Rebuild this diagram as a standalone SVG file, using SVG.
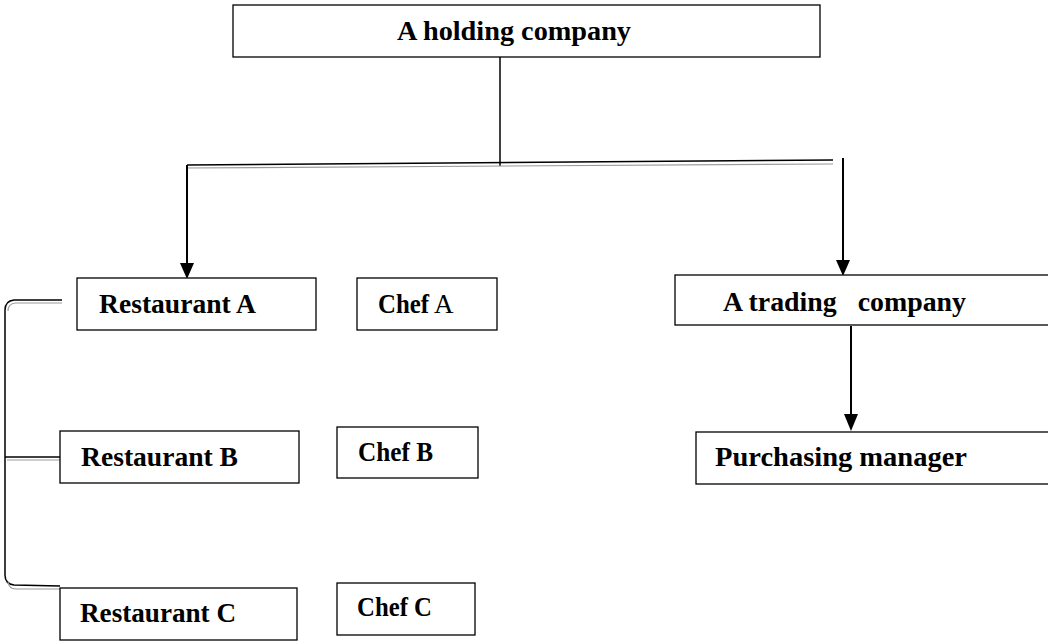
<svg xmlns="http://www.w3.org/2000/svg" width="1048" height="641" viewBox="0 0 1048 641">
  <style>
    .box { fill: #ffffff; stroke: #000000; stroke-width: 1.3; }
    .lbl { font-family: "Liberation Serif", "DejaVu Serif", serif; font-weight: bold; font-size: 27px; fill: #000000; }
    .reg { font-weight: normal; }
    .wire { fill: none; stroke: #000000; stroke-width: 1.5; }
    .shade { fill: none; stroke: #9a9a9a; stroke-width: 1.2; }
    .arrow { fill: none; stroke: #000000; stroke-width: 2; }
    .head { fill: #000000; }
  </style>

  <rect width="1048" height="641" fill="#ffffff"/>

  <!-- connectors -->
  <g id="connectors">
    <!-- trunk from the holding company -->
    <line class="wire" x1="500" y1="57" x2="500" y2="166"/>
    <!-- double crossbar -->
    <line class="wire" x1="187" y1="165" x2="833" y2="160"/>
    <line class="shade" x1="187" y1="168" x2="833" y2="164"/>
    <!-- down to restaurant A -->
    <line class="arrow" x1="187" y1="165" x2="187" y2="266"/>
    <path class="head" d="M180,263 L194,263 L187,279 Z"/>
    <!-- down to trading company -->
    <line class="arrow" x1="843" y1="158" x2="843" y2="262"/>
    <path class="head" d="M836,260 L850,260 L843,276 Z"/>
    <!-- trading company to purchasing manager -->
    <line class="arrow" x1="851" y1="326" x2="851" y2="417"/>
    <path class="head" d="M844,414 L858,414 L851,431 Z"/>
    <!-- bracket linking the restaurants -->
    <path class="wire" d="M62,300 L14,300 Q5,301 5,310 L5,575 Q5,584 14,585 L60,586"/>
    <path class="shade" d="M62,303 L15,303 Q8,304 8,311"/>
    <path class="shade" d="M8,582 Q9,589 16,589 L60,589"/>
    <line class="wire" x1="5" y1="457" x2="60" y2="457"/>
    <line class="shade" x1="7" y1="460" x2="60" y2="460"/>
  </g>

  <g id="holding">
    <rect class="box" x="233" y="5" width="587" height="52"/>
    <text class="lbl" x="397" y="40" textLength="234" lengthAdjust="spacingAndGlyphs">A holding company</text>
  </g>

  <g id="restaurant-a">
    <rect class="box" x="77" y="278" width="239" height="52"/>
    <text class="lbl" x="99" y="313" textLength="157" lengthAdjust="spacingAndGlyphs">Restaurant A</text>
  </g>

  <g id="chef-a">
    <rect class="box" x="357" y="278" width="140" height="52"/>
    <text class="lbl" y="313"><tspan x="378" textLength="51" lengthAdjust="spacingAndGlyphs">Chef</tspan><tspan class="reg" x="434">A</tspan></text>
  </g>

  <g id="trading">
    <rect class="box" x="675" y="275" width="380" height="50"/>
    <text class="lbl" x="723" y="311" xml:space="preserve" textLength="243" lengthAdjust="spacingAndGlyphs">A trading   company</text>
  </g>

  <g id="purchasing">
    <rect class="box" x="696" y="432" width="360" height="52"/>
    <text class="lbl" x="715" y="466" textLength="252" lengthAdjust="spacingAndGlyphs">Purchasing manager</text>
  </g>

  <g id="restaurant-b">
    <rect class="box" x="60" y="431" width="239" height="52"/>
    <text class="lbl" x="81" y="466" textLength="157" lengthAdjust="spacingAndGlyphs">Restaurant B</text>
  </g>

  <g id="chef-b">
    <rect class="box" x="337" y="427" width="141" height="51"/>
    <text class="lbl" x="358" y="461" textLength="75" lengthAdjust="spacingAndGlyphs">Chef B</text>
  </g>

  <g id="restaurant-c">
    <rect class="box" x="60" y="588" width="237" height="52"/>
    <text class="lbl" x="80" y="622" textLength="156" lengthAdjust="spacingAndGlyphs">Restaurant C</text>
  </g>

  <g id="chef-c">
    <rect class="box" x="337" y="583" width="138" height="52"/>
    <text class="lbl" x="357" y="616" textLength="75" lengthAdjust="spacingAndGlyphs">Chef C</text>
  </g>
</svg>
